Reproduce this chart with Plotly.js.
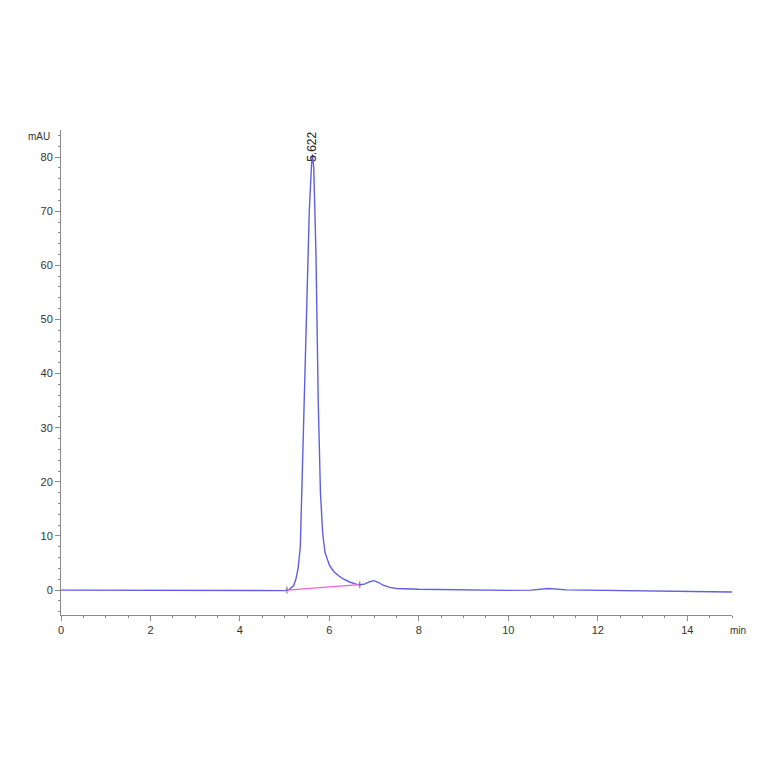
<!DOCTYPE html>
<html>
<head>
<meta charset="utf-8">
<script src="https://cdn.plot.ly/plotly-3.0.1.min.js"></script>
<style>
  html, body { margin: 0; padding: 0; background: #fff; }
  #chromChart { width: 764px; height: 764px; }
</style>
</head>
<body>
<div id="chromChart"></div>
<script>
    // ── Chromatogram data ──
    const timeMin = [0, 1, 2, 3, 4, 4.5, 5.0, 5.1, 5.2, 5.25, 5.3, 5.35, 5.4, 5.45, 5.5, 5.55, 5.6, 5.622, 5.65,
                     5.7, 5.75, 5.8, 5.85, 5.9, 6.0, 6.1, 6.2, 6.3, 6.45, 6.6, 6.7, 6.8, 6.9, 7.0, 7.1, 7.2,
                     7.35, 7.5, 8, 9, 10, 10.5, 10.9, 11.3, 12, 13, 14, 15];
    const signalMAU = [0, 0, -0.1, -0.1, -0.1, -0.1, -0.1, 0.1, 0.8, 2.0, 4.0, 8.0, 23.5, 36, 51, 70, 78.5, 80.5, 78,
                       62, 35, 18, 10.5, 7.0, 4.6, 3.4, 2.7, 2.1, 1.5, 1.1, 1.0, 1.15, 1.55, 1.75, 1.4, 0.9,
                       0.5, 0.3, 0.15, 0.0, -0.05, 0.0, 0.3, 0.05, 0.0, -0.2, -0.25, -0.35];

    // integration baseline under the main peak
    const baseTime = [5.05, 6.68];
    const baseMAU  = [0.0, 1.0];

    const peakTime  = 5.622;
    const peakLabel = '5.622';
    const peakTop   = 80.5;

    const axisGrey = '#8a8a8a';
    const tickFont = { family: 'Liberation Sans, Arial', size: 11, color: '#333' };

    Plotly.newPlot('chromChart', [
        {
            x: timeMin, y: signalMAU,
            type: 'scatter', mode: 'lines',
            line: { color: '#5f5fe4', width: 1.4 },
            hoverinfo: 'skip'
        },
        {
            x: baseTime, y: baseMAU,
            type: 'scatter', mode: 'lines+markers',
            line: { color: '#f060d8', width: 1.3 },
            marker: { symbol: 'line-ns', size: 5, line: { color: '#666', width: 1 } },
            hoverinfo: 'skip'
        }
    ], {
        width: 764, height: 764,
        margin: { t: 130, r: 32, b: 149, l: 61 },
        showlegend: false,
        paper_bgcolor: '#fff',
        plot_bgcolor: '#fff',
        font: { family: 'Liberation Sans, Arial' },
        xaxis: {
            range: [0, 15], dtick: 2, tick0: 0,
            showgrid: false, zeroline: false,
            showline: true, linecolor: axisGrey, linewidth: 1,
            ticks: 'outside', ticklen: 5, tickcolor: axisGrey,
            minor: { dtick: 0.5, ticks: 'outside', ticklen: 2, tickcolor: axisGrey },
            tickfont: tickFont
        },
        yaxis: {
            range: [-4.6, 85], dtick: 10, tick0: 0,
            showgrid: false, zeroline: false,
            showline: true, linecolor: axisGrey, linewidth: 1,
            ticks: 'outside', ticklen: 5, tickcolor: axisGrey,
            minor: { dtick: 2, ticks: 'outside', ticklen: 2, tickcolor: axisGrey },
            tickfont: tickFont
        },
        annotations: [
            {
                x: peakTime, y: peakTop, xref: 'x', yref: 'y',
                text: peakLabel, textangle: -90, showarrow: false,
                xanchor: 'center', yanchor: 'bottom', yshift: -9,
                font: { family: 'Liberation Sans, Arial', size: 12, color: '#222' }
            },
            {
                x: 0, y: 85, xref: 'paper', yref: 'y',
                text: 'mAU', showarrow: false,
                xanchor: 'right', yanchor: 'middle', xshift: -9, yshift: -6,
                font: { family: 'Liberation Sans, Arial', size: 10, color: '#333' }
            },
            {
                x: 15, y: 0, xref: 'x', yref: 'paper',
                text: 'min', showarrow: false,
                xanchor: 'center', yanchor: 'top', xshift: 6, yshift: -8,
                font: { family: 'Liberation Sans, Arial', size: 10, color: '#333' }
            }
        ]
    }, { displayModeBar: false, staticPlot: true });
</script>
</body>
</html>
